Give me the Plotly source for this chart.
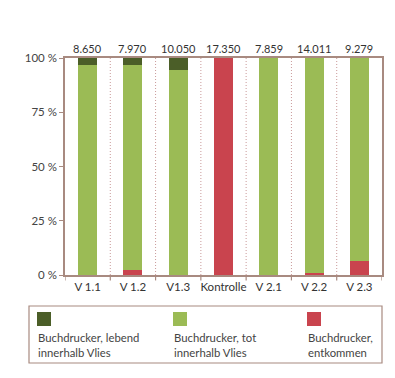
import plotly.graph_objects as go

categories = ["V 1.1", "V 1.2", "V1.3", "Kontrolle", "V 2.1", "V 2.2", "V 2.3"]
totals = ["8.650", "7.970", "10.050", "17.350", "7.859", "14.011", "9.279"]
lebend = [3.4, 3.1, 5.4, 0, 0, 0, 0]
tot = [96.6, 94.6, 94.6, 0, 100, 99.0, 93.7]
entkommen = [0, 2.3, 0, 100, 0, 1.0, 6.3]
y_ticks = [0, 25, 50, 75, 100]
y_ticklabels = ["0 %", "25 %", "50 %", "75 %", "100 %"]
legend_names = ["Buchdrucker, lebend<br>innerhalb Vlies", "Buchdrucker, tot<br>innerhalb Vlies", "Buchdrucker,<br>entkommen"]

C_DARK = "#4b5e28"
C_GREEN = "#9bbb55"
C_RED = "#c9444e"
AXIS = "#a88a80"
FONT = "Lato"

xs = list(range(len(categories)))
fig = go.Figure()
for vals, col, name in [(entkommen, C_RED, legend_names[2]), (tot, C_GREEN, legend_names[1]), (lebend, C_DARK, legend_names[0])]:
    fig.add_trace(go.Bar(x=xs, y=vals, marker=dict(color=col, line=dict(width=0)), width=0.42, name=name, showlegend=False))

fig.update_layout(
    barmode="stack",
    width=395, height=378,
    margin=dict(l=65, r=13, t=58, b=103),
    plot_bgcolor="white", paper_bgcolor="white",
    font=dict(family=FONT, color="#444", size=11),
    xaxis=dict(range=[-0.5, 6.5], tickvals=xs, ticktext=categories, ticks="", showgrid=False,
               showline=True, linecolor=AXIS, linewidth=1.5, mirror=True, zeroline=False,
               tickfont=dict(size=11.5, color="#333"), fixedrange=True),
    yaxis=dict(range=[0, 100], tickvals=y_ticks, ticktext=y_ticklabels, ticks="outside", ticklen=4,
               tickcolor=AXIS, showgrid=False, showline=True, linecolor=AXIS, linewidth=1.5, mirror=True,
               zeroline=False, tickfont=dict(size=11.5, color="#444"), fixedrange=True),
)

shapes = []
for i in range(len(categories) + 1):
    b = i - 0.5
    shapes.append(dict(type="line", xref="x", yref="paper", x0=b, x1=b, y0=0, y1=-0.025,
                       line=dict(color=AXIS, width=1.2)))
    if 0 < i < len(categories):
        shapes.append(dict(type="line", xref="x", yref="y", x0=b, x1=b, y0=0, y1=100,
                           line=dict(color="#c99a9a", width=1, dash="1px,2px"), layer="below"))

annotations = []
for x, t in zip(xs, totals):
    annotations.append(dict(x=x, y=100, xref="x", yref="y", text=t, showarrow=False,
                            yanchor="bottom", yshift=1, font=dict(size=11, color="#333")))

# custom legend
pl, pr, pt, pb = 65, 382, 58, 275
def ax(x): return (x - pl) / (pr - pl)
def ay(y): return (pb - y) / (pb - pt)
shapes.append(dict(type="rect", xref="paper", yref="paper", x0=ax(29), x1=ax(382), y0=ay(306), y1=ay(363),
                   line=dict(color=AXIS, width=1.2), fillcolor="white"))
for lx, col, name in [(37, C_DARK, legend_names[0]), (173, C_GREEN, legend_names[1]), (307, C_RED, legend_names[2])]:
    shapes.append(dict(type="rect", xref="paper", yref="paper", x0=ax(lx), x1=ax(lx + 14), y0=ay(312), y1=ay(326),
                       line=dict(width=0), fillcolor=col))
    annotations.append(dict(x=ax(lx - 1), y=ay(329), xref="paper", yref="paper", text=name, showarrow=False,
                            xanchor="left", yanchor="top", align="left",
                            font=dict(size=11.3, color="#444")))

fig.update_layout(shapes=shapes, annotations=annotations)
fig.write_html("out.html")
